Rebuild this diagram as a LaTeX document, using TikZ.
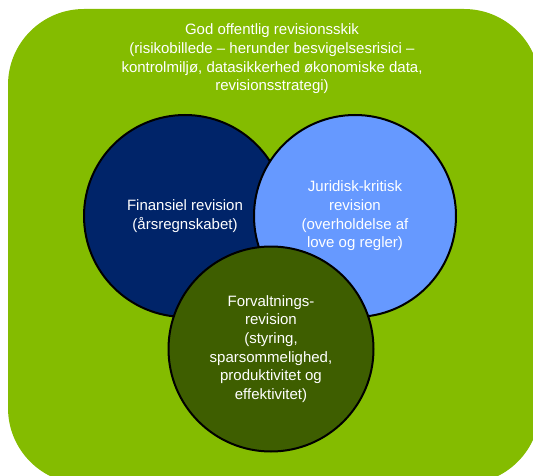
\documentclass[tikz,border=0pt]{standalone}
\usepackage{fontspec}
\setmainfont{Liberation Sans}
\usepackage{tikz}
\usetikzlibrary{shapes}
\usetikzlibrary{positioning}
\definecolor{bggreen}{HTML}{84BC00}
\definecolor{finblue}{HTML}{002469}
\definecolor{jurblue}{HTML}{6699FF}
\definecolor{forgreen}{HTML}{3E5E00}

\begin{document}
\begin{tikzpicture}[x=1pt, y=-1pt, every node/.style={text=white, align=center, font=\fontsize{15}{18.7}\selectfont}, venn/.style={draw=black, line width=2pt, circle, minimum size=202pt, inner sep=0pt}]
\useasboundingbox (0,0) rectangle (533,476);
\clip (0,0) rectangle (533,476);
\fill[bggreen, rounded corners=76pt] (8,9) rectangle (540,484);
\node (V1N0) at (272,59) {God offentlig revisionsskik\\(risikobillede -- herunder besvigelsesrisici --\\kontrolmiljø, datasikkerhed økonomiske data,\\revisionsstrategi)};
\node[venn, fill=finblue] (V1N1) at (185,216) {Finansiel revision\\(årsregnskabet)};
\node[venn, fill=jurblue] (V1N2) at (355,216) {Juridisk-kritisk\\revision\\(overholdelse af\\love og regler)};
\node[venn, fill=forgreen, minimum size=205pt] (V1N3) at (271,349) {Forvaltnings-\\revision\\(styring,\\sparsommelighed,\\produktivitet og\\effektivitet)};
\end{tikzpicture}
\end{document}
